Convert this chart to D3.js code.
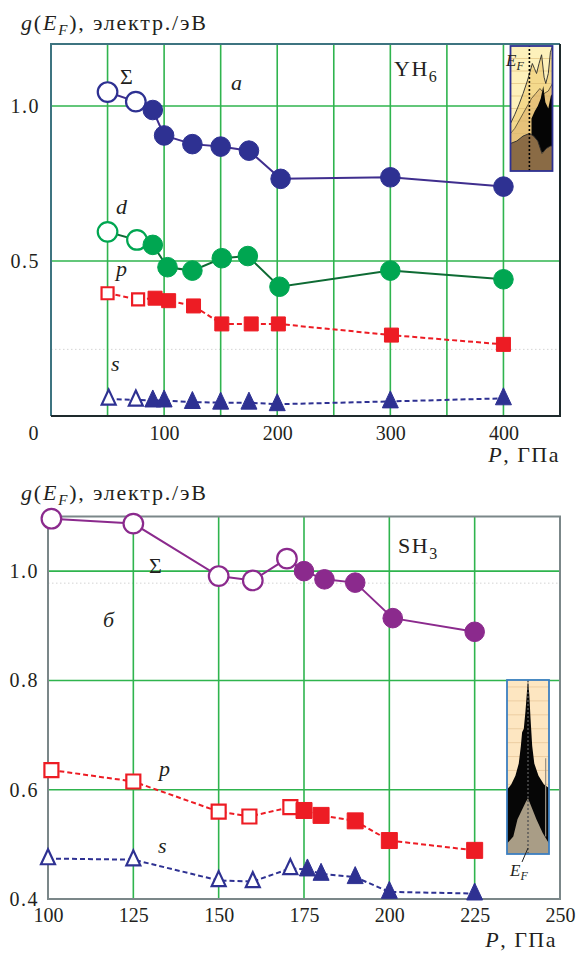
<!DOCTYPE html>
<html>
<head>
<meta charset="utf-8">
<script src="https://cdn.jsdelivr.net/npm/d3@7"></script>
<style>
  html, body { margin: 0; padding: 0; background: #fff; }
  svg { display: block; }
  text { font-family: "Liberation Serif", "DejaVu Serif", serif; fill: #231f20; }
</style>
</head>
<body>
<svg id="chart" width="581" height="953"></svg>
<script>
// ---------- Panel a: YH6 ----------
const yhP      = [50, 75, 90, 100, 125, 150, 175, 203, 300, 400];
const yhSigma  = [1.045, 1.014, 0.987, 0.905, 0.877, 0.869, 0.856, 0.765, 0.770, 0.740];
const yhDP     = [50, 76, 90, 103, 125, 151, 174, 202, 300, 400];
const yhD      = [0.594, 0.568, 0.552, 0.480, 0.469, 0.509, 0.516, 0.417, 0.469, 0.441];
const yhPP     = [50, 77, 92, 104, 126, 151, 177, 201, 301, 400];
const yhPorb   = [0.396, 0.376, 0.380, 0.372, 0.355, 0.297, 0.297, 0.297, 0.261, 0.231];
const yhSP     = [51, 75, 90, 100, 125, 150, 175, 200, 300, 400];
const yhS      = [0.055, 0.052, 0.050, 0.050, 0.045, 0.043, 0.043, 0.038, 0.047, 0.057];
const yhOpen   = 2;           // first two points of each series are open markers
const yhXTicks = [0, 100, 200, 300, 400];
const yhXGrid  = [50, 100, 150, 200, 250, 300, 350, 400];
const yhYTicks = [0.5, 1.0];

// ---------- Panel б: SH3 ----------
const shP      = [101, 125, 150, 160, 170, 175, 181, 190, 201, 225];
const shSigma  = [1.096, 1.087, 0.991, 0.983, 1.023, 1.000, 0.985, 0.979, 0.914, 0.889];
const shPP     = [101, 125, 150, 159, 171, 175, 180, 190, 200, 225];
const shPorb   = [0.636, 0.615, 0.560, 0.551, 0.568, 0.562, 0.553, 0.543, 0.507, 0.489];
const shSP     = [100, 125, 150, 160, 171, 176, 180, 190, 200, 225];
const shS      = [0.474, 0.472, 0.434, 0.432, 0.456, 0.454, 0.446, 0.440, 0.413, 0.410];
const shOpen   = 5;
const shXTicks = [100, 125, 150, 175, 200, 225, 250];
const shXGrid  = [125, 150, 175, 200, 225];
const shYTicks = [0.4, 0.6, 0.8, 1.0];
const shYGrid  = [0.6, 0.8, 1.0];

// ---------- Inset DOS sketches (energy 0..1, density 0..1) ----------
const yhTotal = [[0,0.38],[0.1,0.45],[0.2,0.53],[0.3,0.62],[0.4,0.72],[0.47,0.8],[0.52,0.86],[0.57,0.82],[0.62,0.78],[0.68,0.86],[0.74,0.93],[0.8,0.75],[0.84,0.7],[0.9,0.78],[0.95,0.95],[1,1]];
const yhInner = [[0,0.3],[0.1,0.34],[0.2,0.4],[0.3,0.46],[0.4,0.52],[0.5,0.58],[0.6,0.62],[0.7,0.66],[0.8,0.62],[0.9,0.64],[1,0.7]];
const yhBlackTop = [[0.5,0.42],[0.58,0.48],[0.65,0.52],[0.72,0.58],[0.78,0.68],[0.83,0.55],[0.9,0.5],[0.96,0.6],[1,0.62]];
const yhBrown = [[0,0.22],[0.15,0.24],[0.3,0.28],[0.45,0.3],[0.55,0.28],[0.65,0.24],[0.75,0.14],[0.85,0.18],[0.95,0.2],[1,0.2]];
const yhEF = 0.45;

const shBlack = [[0,0.37],[0.1,0.4],[0.2,0.45],[0.28,0.52],[0.33,0.62],[0.36,0.7],[0.4,0.72],[0.44,0.82],[0.48,0.95],[0.5,1],[0.53,0.92],[0.56,0.78],[0.6,0.62],[0.65,0.52],[0.75,0.45],[0.88,0.4],[1,0.38]];
const shGrey = [[0,0.06],[0.15,0.1],[0.25,0.2],[0.35,0.25],[0.45,0.3],[0.5,0.32],[0.6,0.26],[0.7,0.2],[0.85,0.12],[1,0.06]];
const shEF = 0.5;

const C = {
  grid: "#2fb44e",
  navy: "#2e3192",
  navyLine: "#3f2e8e",
  green: "#00a651",
  greenLine: "#0e6b34",
  red: "#ed1c24",
  purple: "#8b2a8d",
  dotted: "#d4d4d4"
};

const svg = d3.select("#chart");
const FONT = 20;

function zip(xs, ys) { return xs.map((x, i) => ({ x, y: ys[i], i })); }

function triPath(w, h) {
  return `M0,${-h * 0.62}L${w / 2},${h * 0.38}L${-w / 2},${h * 0.38}Z`;
}

function drawSeries(g, x, y, pts, opt) {
  const line = d3.line().x(d => x(d.x)).y(d => y(d.y));
  g.append("path").datum(pts)
    .attr("d", line)
    .attr("fill", "none")
    .attr("stroke", opt.line)
    .attr("stroke-width", opt.lw || 2)
    .attr("stroke-dasharray", opt.dash || null);
  const m = g.selectAll(null).data(pts).join("path")
    .attr("transform", d => `translate(${x(d.x)},${y(d.y)})`)
    .attr("fill", d => d.i < opt.open ? "#fff" : opt.fill)
    .attr("stroke", opt.stroke)
    .attr("stroke-width", d => d.i < opt.open ? 2.2 : 1);
  if (opt.shape === "circle") m.attr("d", d3.symbol(d3.symbolCircle, Math.PI * opt.r * opt.r)());
  if (opt.shape === "square") m.attr("d", d => d.i < opt.open
      ? d3.symbol(d3.symbolSquare, (opt.s - 2) * (opt.s - 2))()
      : d3.symbol(d3.symbolSquare, opt.s * opt.s)());
  if (opt.shape === "tri") m.attr("d", d => d.i < opt.open ? triPath(opt.w - 2, opt.h - 2) : triPath(opt.w, opt.h));
}

function yTitle(yBase) {
  const t = svg.append("text").attr("x", 21).attr("y", yBase).attr("font-size", 22).attr("letter-spacing", 1.8);
  t.append("tspan").attr("font-style", "italic").text("g");
  t.append("tspan").text("(");
  t.append("tspan").attr("font-style", "italic").text("E");
  t.append("tspan").attr("font-style", "italic").attr("font-size", 15).attr("dy", 5).text("F");
  t.append("tspan").attr("dy", -5).text("), электр./эВ");
}

function xTitle(xRight, yBase) {
  const t = svg.append("text").attr("x", xRight).attr("y", yBase).attr("text-anchor", "end")
    .attr("font-size", 22).attr("letter-spacing", 1.5);
  t.append("tspan").attr("font-style", "italic").text("P");
  t.append("tspan").text(", ГПа");
}

function formula(g, xPos, yBase, base, sub) {
  const t = g.append("text").attr("x", xPos).attr("y", yBase).attr("font-size", 22).attr("letter-spacing", 1.5);
  t.append("tspan").text(base);
  t.append("tspan").attr("font-size", 16).attr("dy", 6).text(sub);
}

function italic(g, xPos, yBase, s, size) {
  g.append("text").attr("x", xPos).attr("y", yBase).attr("font-size", size || 22)
    .attr("font-style", "italic").text(s);
}

// ================= Panel a =================
{
  const x = d3.scaleLinear().domain([0, 450]).range([51, 560]);
  const y = d3.scaleLinear().domain([0, 1.2]).range([416, 44]);
  const g = svg.append("g");

  // faint dotted reference line
  g.append("line").attr("x1", x(0)).attr("x2", x(450)).attr("y1", y(0.215)).attr("y2", y(0.215))
    .attr("stroke", C.dotted).attr("stroke-width", 1).attr("stroke-dasharray", "1.5,2.5");

  g.selectAll(null).data(yhXGrid).join("line")
    .attr("x1", d => x(d)).attr("x2", d => x(d)).attr("y1", y(0)).attr("y2", y(1.2))
    .attr("stroke", C.grid).attr("stroke-width", 1.6);
  g.selectAll(null).data(yhYTicks).join("line")
    .attr("x1", x(0)).attr("x2", x(450)).attr("y1", d => y(d)).attr("y2", d => y(d))
    .attr("stroke", C.grid).attr("stroke-width", 1.6);

  // frame
  g.append("path").attr("d", `M${x(0)},${y(0)}V${y(1.2)}H${x(450)}`)
    .attr("fill", "none").attr("stroke", "#3d7480").attr("stroke-width", 2);
  g.append("path").attr("d", `M${x(0)},${y(0)}H${x(450)}V${y(1.2)}`)
    .attr("fill", "none").attr("stroke", "#1e2a2c").attr("stroke-width", 2);

  // axes labels
  const xa = g.append("g").attr("transform", `translate(0,${y(0)})`)
    .call(d3.axisBottom(x).tickValues(yhXTicks).tickSize(0).tickPadding(10).tickFormat(d3.format("d")));
  xa.select(".domain").remove();
  xa.selectAll("text").attr("font-size", FONT).attr("fill", "#231f20")
    .attr("dx", d => d === 0 ? -18 : 0);
  const ya = g.append("g").attr("transform", `translate(${x(0)},0)`)
    .call(d3.axisLeft(y).tickValues(yhYTicks).tickSize(0).tickPadding(11).tickFormat(d3.format(".1f")));
  ya.select(".domain").remove();
  ya.selectAll("text").attr("font-size", FONT).attr("fill", "#231f20").attr("letter-spacing", 1.5);

  // data
  drawSeries(g, x, y, zip(yhSP, yhS), { line: C.navy, dash: "5,3", shape: "tri", w: 16, h: 17, fill: C.navy, stroke: C.navy, open: yhOpen });
  drawSeries(g, x, y, zip(yhPP, yhPorb), { line: C.red, dash: "5,3", shape: "square", s: 14, fill: C.red, stroke: C.red, open: yhOpen });
  drawSeries(g, x, y, zip(yhDP, yhD), { line: C.greenLine, shape: "circle", r: 9.8, fill: C.green, stroke: C.green, open: yhOpen });
  drawSeries(g, x, y, zip(yhP, yhSigma), { line: C.navyLine, shape: "circle", r: 9.8, fill: C.navy, stroke: C.navy, open: yhOpen });

  // annotations
  g.append("text").attr("x", 120).attr("y", 84).attr("font-size", 22).text("Σ");
  italic(g, 231, 90, "a");
  italic(g, 116, 214, "d");
  italic(g, 116, 276, "p");
  italic(g, 111, 371, "s");
  formula(g, 394, 76, "YH", "6");

  // inset: DOS near the Fermi level
  const ix = d3.scaleLinear().domain([0, 1]).range([510.5, 552.5]);
  const iy = d3.scaleLinear().domain([0, 1]).range([171, 46]);
  const ins = g.append("g");
  const lineI = d3.line().x(d => ix(d[0])).y(d => iy(d[1]));
  const area = (pts, base) => d3.area().x(d => ix(d[0])).y0(iy(base)).y1(d => iy(d[1]))(pts);
  ins.append("rect").attr("x", ix(0)).attr("y", iy(1)).attr("width", ix(1) - ix(0)).attr("height", iy(0) - iy(1)).attr("fill", "#fdf1bb");
  ins.append("path").attr("d", area(yhTotal, 0)).attr("fill", "#f4d98c");
  ins.append("path").attr("d", area(yhInner, 0)).attr("fill", "#e6c27a");
  ins.selectAll(null).data(d3.range(0.1, 1, 0.1)).join("line")
    .attr("x1", ix(0)).attr("x2", ix(1)).attr("y1", d => iy(d)).attr("y2", d => iy(d))
    .attr("stroke", "#d9b870").attr("stroke-width", 0.8).attr("opacity", 0.7);
  ins.append("path").attr("d", d3.area().x(d => ix(d[0])).y0(iy(0.15)).y1(d => iy(d[1]))(yhBlackTop)).attr("fill", "#050505");
  ins.append("path").attr("d", area(yhBrown, 0)).attr("fill", "#8a6b45");
  ins.append("path").datum(yhTotal).attr("d", lineI).attr("fill", "none").attr("stroke", "#2a2a2a").attr("stroke-width", 0.9);
  ins.append("path").datum(yhInner).attr("d", lineI).attr("fill", "none").attr("stroke", "#3a3020").attr("stroke-width", 0.7);
  ins.append("path").datum(yhBrown).attr("d", lineI).attr("fill", "none").attr("stroke", "#2a2a2a").attr("stroke-width", 0.9);
  ins.append("line").attr("x1", ix(yhEF)).attr("x2", ix(yhEF)).attr("y1", iy(0)).attr("y2", iy(1))
    .attr("stroke", "#000").attr("stroke-width", 1.6).attr("stroke-dasharray", "2,2");
  ins.append("rect").attr("x", ix(0)).attr("y", iy(1)).attr("width", ix(1) - ix(0)).attr("height", iy(0) - iy(1))
    .attr("fill", "none").attr("stroke", "#2e3192").attr("stroke-width", 1.8);
  const ef = ins.append("text").attr("x", 506).attr("y", 66).attr("font-size", 17).attr("font-style", "italic");
  ef.append("tspan").text("E");
  ef.append("tspan").attr("font-size", 12).attr("dy", 4).text("F");

  xTitle(560, 462);
}

// ================= Panel б =================
{
  const x = d3.scaleLinear().domain([100, 250]).range([48, 560]);
  const y = d3.scaleLinear().domain([0.4, 1.1]).range([899, 516.5]);
  const g = svg.append("g");

  g.append("line").attr("x1", x(100)).attr("x2", x(250)).attr("y1", y(0.978)).attr("y2", y(0.978))
    .attr("stroke", C.dotted).attr("stroke-width", 1).attr("stroke-dasharray", "1.5,2.5");

  g.selectAll(null).data(shXGrid).join("line")
    .attr("x1", d => x(d)).attr("x2", d => x(d)).attr("y1", y(0.4)).attr("y2", y(1.1))
    .attr("stroke", C.grid).attr("stroke-width", 1.6);
  g.selectAll(null).data(shYGrid).join("line")
    .attr("x1", x(100)).attr("x2", x(250)).attr("y1", d => y(d)).attr("y2", d => y(d))
    .attr("stroke", C.grid).attr("stroke-width", 1.6);

  g.append("rect").attr("x", x(100)).attr("y", y(1.1)).attr("width", x(250) - x(100)).attr("height", y(0.4) - y(1.1))
    .attr("fill", "none").attr("stroke", "#7b8789").attr("stroke-width", 2);

  const xa = g.append("g").attr("transform", `translate(0,${y(0.4)})`)
    .call(d3.axisBottom(x).tickValues(shXTicks).tickSize(0).tickPadding(9).tickFormat(d3.format("d")));
  xa.select(".domain").remove();
  xa.selectAll("text").attr("font-size", FONT).attr("fill", "#231f20");
  const ya = g.append("g").attr("transform", `translate(${x(100)},0)`)
    .call(d3.axisLeft(y).tickValues(shYTicks).tickSize(0).tickPadding(9).tickFormat(d3.format(".1f")));
  ya.select(".domain").remove();
  ya.selectAll("text").attr("font-size", FONT).attr("fill", "#231f20").attr("letter-spacing", 1.5);

  drawSeries(g, x, y, zip(shSP, shS), { line: C.navy, dash: "5,3", shape: "tri", w: 16, h: 17, fill: C.navy, stroke: C.navy, open: shOpen });
  drawSeries(g, x, y, zip(shPP, shPorb), { line: C.red, dash: "5,3", shape: "square", s: 16, fill: C.red, stroke: C.red, open: shOpen });
  drawSeries(g, x, y, zip(shP, shSigma), { line: C.purple, shape: "circle", r: 9.8, fill: C.purple, stroke: C.purple, open: shOpen });

  g.append("text").attr("x", 149).attr("y", 573).attr("font-size", 22).text("Σ");
  italic(g, 103, 627, "б");
  italic(g, 159, 776, "p");
  italic(g, 158, 853, "s");
  formula(g, 398, 553, "SH", "3");

  // inset: DOS near the Fermi level
  const ix = d3.scaleLinear().domain([0, 1]).range([507, 549]);
  const iy = d3.scaleLinear().domain([0, 1]).range([854, 680]);
  const ins = g.append("g");
  ins.append("rect").attr("x", ix(0)).attr("y", iy(1)).attr("width", ix(1) - ix(0)).attr("height", iy(0) - iy(1)).attr("fill", "#fde6c1");
  ins.selectAll(null).data(d3.range(0.08, 1, 0.08)).join("line")
    .attr("x1", ix(0)).attr("x2", ix(1)).attr("y1", d => iy(d)).attr("y2", d => iy(d))
    .attr("stroke", "#e9c89a").attr("stroke-width", 0.8);
  const area = (pts, base) => d3.area().x(d => ix(d[0])).y0(iy(base)).y1(d => iy(d[1]))(pts);
  ins.append("path").attr("d", area(shBlack, 0.06)).attr("fill", "#060606");
  ins.append("path").attr("d", area(shGrey, 0)).attr("fill", "#a99d86");
  ins.append("line").attr("x1", ix(0.92)).attr("x2", ix(0.92)).attr("y1", iy(0.1)).attr("y2", iy(0.55))
    .attr("stroke", "#9a9080").attr("stroke-width", 1.2);
  ins.append("line").attr("x1", ix(shEF)).attr("x2", ix(shEF)).attr("y1", iy(0)).attr("y2", iy(1))
    .attr("stroke", "#555").attr("stroke-width", 1.4).attr("stroke-dasharray", "2,2");
  ins.append("rect").attr("x", ix(0)).attr("y", iy(1)).attr("width", ix(1) - ix(0)).attr("height", iy(0) - iy(1))
    .attr("fill", "none").attr("stroke", "#3c7fc0").attr("stroke-width", 1.8);
  ins.append("line").attr("x1", ix(shEF)).attr("x2", ix(shEF) - 6).attr("y1", iy(0) - 6).attr("y2", iy(0) + 8)
    .attr("stroke", "#222").attr("stroke-width", 1);
  const ef = ins.append("text").attr("x", 510).attr("y", 876).attr("font-size", 17).attr("font-style", "italic");
  ef.append("tspan").text("E");
  ef.append("tspan").attr("font-size", 12).attr("dy", 4).text("F");

  yTitle(500);
  xTitle(557, 947);
}

yTitle(30);
</script>
</body>
</html>
